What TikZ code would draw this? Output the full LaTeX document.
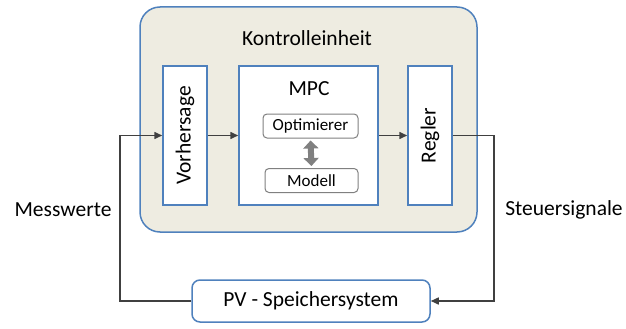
\documentclass[tikz,border=0pt]{standalone}
\usepackage{fontspec}
\setmainfont{Carlito}
\usetikzlibrary{arrows.meta,positioning,calc}

\definecolor{boxblue}{RGB}{79,129,189}
\definecolor{beige}{RGB}{238,236,225}
\definecolor{linegray}{RGB}{64,64,64}
\definecolor{midgray}{RGB}{128,128,128}

\tikzset{
  outerbox/.style = {draw=boxblue, fill=beige, line width=1.5pt, rounded corners=20pt,
                     minimum width=337pt, minimum height=225pt},
  block/.style    = {draw=boxblue, fill=white, line width=1.5pt, minimum height=139pt},
  inner/.style    = {draw=midgray, fill=white, line width=1pt, rounded corners=4pt,
                     minimum height=24pt, font=\fontsize{17}{20}\selectfont},
  big/.style      = {font=\fontsize{21.5}{26}\selectfont},
  flow/.style     = {draw=linegray, line width=1.5pt, -{Triangle[length=8pt,width=7pt]}},
}

\begin{document}
\begin{tikzpicture}[x=1pt, y=-1pt]
    \useasboundingbox (0,0) rectangle (626,329);

    \node[outerbox] (ctrl) at (308.5,119.5) {};
    \node[big]      (title) at (307,38) {Kontrolleinheit};

    \node[block, minimum width=44pt]  (vor) at (185,135.5) {};
    \node[big, rotate=90]             (vortxt) at (vor) {Vorhersage};
    \node[block, minimum width=139pt] (mpc) at (308.5,135.5) {};
    \node[big]                        (mpctxt) at (309,89) {MPC};
    \node[block, minimum width=44pt]  (reg) at (430,135.5) {};
    \node[big, rotate=90]             (regtxt) at (reg) {Regler};

    \node[inner, minimum width=95pt] (opt) at (310.5,126) {Optimierer};
    \node[inner, minimum width=93pt] (mod) at (311.5,180.5) {Modell};

    \node[draw=boxblue, fill=white, line width=1.5pt, rounded corners=8pt,
          minimum width=238pt, minimum height=42pt, big] (pv) at (311,301) {PV - Speichersystem};

    \node[big] (mess)  at (63,210)  {Messwerte};
    \node[big] (steuer) at (564,210) {Steuersignale};

    \coordinate (lx) at (120,220);
    \coordinate (rx) at (494,220);

    % signal flow
    \draw[flow] (vor.east) -- (mpc.west);
    \draw[flow] (mpc.east) -- (reg.west);
    \draw[flow] (reg.east) -| (rx) |- (pv.east);
    \draw[flow] (pv.west) -| (lx) |- (vor.west);

    \draw[midgray, line width=6pt, {Triangle[length=8pt,width=15pt]}-{Triangle[length=8pt,width=15pt]},
          shorten <=2pt, shorten >=2pt] (opt.south) -- (mod.north);
\end{tikzpicture}
\end{document}
